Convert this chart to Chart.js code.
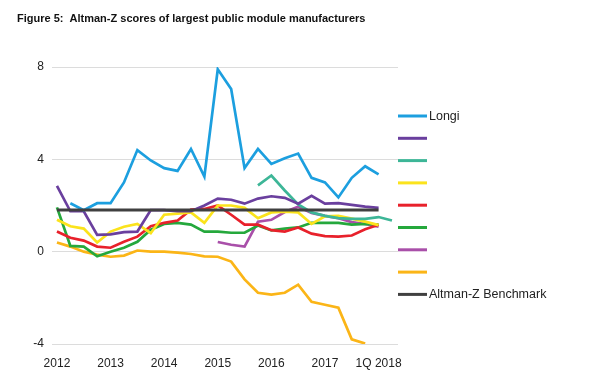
<!DOCTYPE html>
<html>
<head>
<meta charset="utf-8">
<script src="https://cdn.jsdelivr.net/npm/chart.js@4.4.1/dist/chart.umd.min.js"></script>
<style>
html,body{margin:0;padding:0;background:#fff;}
canvas{display:block;}
</style>
</head>
<body>
<canvas id="c" width="600" height="378"></canvas>
<script>
const titleText = "Figure 5:  Altman-Z scores of largest public module manufacturers";
const quarters = ["1Q 2012","2Q 2012","3Q 2012","4Q 2012","1Q 2013","2Q 2013","3Q 2013","4Q 2013","1Q 2014","2Q 2014","3Q 2014","4Q 2014","1Q 2015","2Q 2015","3Q 2015","4Q 2015","1Q 2016","2Q 2016","3Q 2016","4Q 2016","1Q 2017","2Q 2017","3Q 2017","4Q 2017","1Q 2018","2Q 2018"];
const xTickPositions = [0,4,8,12,16,20,24];
const xTickLabels = ["2012","2013","2014","2015","2016","2017","1Q 2018"];
const yTicks = [-4,0,4,8];

const seriesNames = ["Longi","","","","","","","","Altman-Z Benchmark"];
const seriesColors = ["#1c9fdf","#6a3f9e","#3db697","#fbe31c","#e8212b","#25a83c","#a94fa9","#fbb517","#404040"];

const longi   = [null,2.1,1.8,2.1,2.1,3.0,4.4,3.95,3.62,3.5,4.45,3.25,7.9,7.05,3.62,4.45,3.8,4.05,4.25,3.2,3.0,2.35,3.2,3.7,3.35,null];
const purple  = [2.85,1.75,1.75,0.73,0.75,0.85,0.87,1.8,1.8,1.75,1.75,2.0,2.3,2.25,2.08,2.3,2.4,2.33,2.08,2.42,2.08,2.1,2.03,1.95,1.9,null];
const teal    = [null,null,null,null,null,null,null,null,null,null,null,null,null,null,null,2.87,3.3,2.65,2.05,1.7,1.55,1.45,1.42,1.42,1.5,1.35];
const yellow  = [1.38,1.1,1.0,0.4,0.87,1.08,1.2,0.8,1.6,1.65,1.7,1.25,2.0,2.0,1.9,1.45,1.7,1.73,1.7,1.2,1.53,1.55,1.43,1.3,1.15,null];
const red     = [0.87,0.6,0.48,0.22,0.17,0.43,0.65,1.1,1.25,1.35,1.82,1.85,2.0,1.6,1.17,1.17,0.93,0.87,1.05,0.78,0.67,0.65,0.7,0.97,1.17,null];
const green   = [1.92,0.25,0.22,-0.2,0.0,0.17,0.43,0.95,1.2,1.25,1.17,0.87,0.87,0.82,0.82,1.13,0.92,1.0,1.05,1.25,1.25,1.25,1.17,1.2,1.17,null];
const magenta = [null,null,null,null,null,null,null,null,null,null,null,null,0.42,0.3,0.22,1.3,1.38,1.72,1.95,1.68,1.55,1.45,1.28,1.2,1.08,null];
const orange  = [0.4,0.22,0.0,-0.13,-0.22,-0.17,0.05,0.0,0.0,-0.04,-0.1,-0.2,-0.22,-0.43,-1.2,-1.78,-1.86,-1.78,-1.43,-2.17,-2.3,-2.43,-3.8,-3.98,null,null];
const benchmark = [1.8,1.8,1.8,1.8,1.8,1.8,1.8,1.8,1.8,1.8,1.8,1.8,1.8,1.8,1.8,1.8,1.8,1.8,1.8,1.8,1.8,1.8,1.8,1.8,1.8,null];

const allSeries = [longi,purple,teal,yellow,red,green,magenta,orange,benchmark];

const datasets = allSeries.map((arr,k)=>({
  label: seriesNames[k],
  data: arr.map((v,i)=>({x:i,y:v})),
  borderColor: seriesColors[k],
  backgroundColor: seriesColors[k],
  borderWidth: k===8 ? 3 : 2.7,
  pointRadius: 0,
  tension: 0,
  spanGaps: false,
  order: k===8 ? 0 : (k===0 ? 1 : 2+k)
}));

const FONT = "'Liberation Sans', Arial, Helvetica, sans-serif";

const decor = {
  id:'decor',
  afterDraw(chart){
    const ctx = chart.ctx;
    ctx.save();
    ctx.fillStyle = '#111';
    ctx.font = "bold 11px " + FONT;
    ctx.textBaseline = 'alphabetic';
    ctx.textAlign = 'left';
    ctx.fillText(titleText, 17, 22);
    // legend
    ctx.font = "12.5px " + FONT;
    ctx.textBaseline = 'middle';
    for(let k=0;k<seriesNames.length;k++){
      const y = 116 + k*22.3;
      ctx.strokeStyle = seriesColors[k];
      ctx.lineWidth = 3;
      ctx.beginPath();
      ctx.moveTo(398,y);
      ctx.lineTo(427,y);
      ctx.stroke();
      if(seriesNames[k]){
        ctx.fillStyle = '#222';
        ctx.fillText(seriesNames[k], 429, y+0.5);
      }
    }
    ctx.restore();
  }
};

new Chart(document.getElementById('c'), {
  type:'line',
  data:{datasets},
  options:{
    responsive:false,
    animation:false,
    layout:{padding:{top:67,right:202,bottom:0,left:0}},
    plugins:{legend:{display:false},title:{display:false},tooltip:{enabled:false}},
    scales:{
      x:{
        type:'linear',
        min:-0.37,
        max:25.45,
        grid:{display:false,drawTicks:false},
        border:{display:false},
        afterBuildTicks(scale){ scale.ticks = xTickPositions.map(v=>({value:v})); },
        afterFit(scale){ scale.height = 34; },
        ticks:{
          autoSkip:false,
          maxRotation:0,
          padding:12,
          color:'#222',
          font:{family:FONT,size:12},
          callback(v){ const i = xTickPositions.indexOf(v); return i>=0 ? xTickLabels[i] : ''; }
        }
      },
      y:{
        min:-4,
        max:8,
        grid:{color:'#dcdcdc',lineWidth:1,drawTicks:false},
        border:{display:false},
        afterBuildTicks(scale){ scale.ticks = yTicks.map(v=>({value:v})); },
        afterFit(scale){ scale.width = 52; },
        ticks:{
          padding:8,
          color:'#222',
          font:{family:FONT,size:12}
        }
      }
    }
  },
  plugins:[decor]
});
</script>
</body>
</html>
